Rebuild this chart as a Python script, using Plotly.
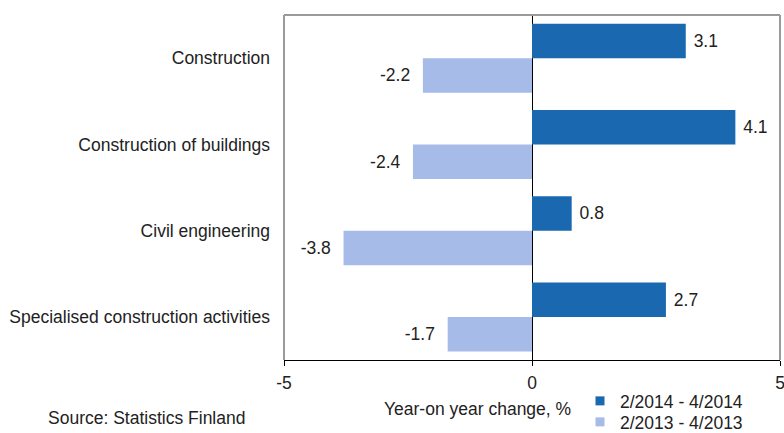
import plotly.graph_objects as go

categories = ["Construction", "Construction of buildings", "Civil engineering",
              "Specialised construction activities"]
series_2014 = [3.1, 4.1, 0.8, 2.7]
series_2013 = [-2.2, -2.4, -3.8, -1.7]
name_2014 = "2/2014 - 4/2014"
name_2013 = "2/2013 - 4/2013"
x_ticks = [-5, 0, 5]

DARK = "#1a68b0"
LIGHT = "#a6bbe8"
FONT = dict(family="Arial, Liberation Sans, sans-serif", size=17.5, color="#222222")

W, H = 784, 433
PL, PT, PR, PB = 284, 15, 780, 360  # plot area in px


def px(sx):
    return (sx - PL) / (PR - PL)


def py(sy):
    return (PB - sy) / (PB - PT)


NB = "\u00a0"
fig = go.Figure()
fig.add_trace(go.Bar(
    y=categories, x=series_2014, orientation="h", name=name_2014,
    marker=dict(color=DARK, line=dict(width=0)),
    text=[NB + f"{v:.1f}" for v in series_2014], textposition="outside",
    textfont=FONT, cliponaxis=False, showlegend=False,
))
fig.add_trace(go.Bar(
    y=categories, x=series_2013, orientation="h", name=name_2013,
    marker=dict(color=LIGHT, line=dict(width=0)),
    text=[f"{v:.1f}" + NB + NB for v in series_2013], textposition="outside",
    textfont=FONT, cliponaxis=False, showlegend=False,
))
# legend entries (small square symbols)
for nm, col, lg in [(name_2014, DARK, "legend"), (name_2013, LIGHT, "legend2")]:
    fig.add_trace(go.Scatter(
        x=[None], y=[None], mode="markers", name=nm, legend=lg,
        marker=dict(symbol="square", size=9, color=col),
    ))

legend_common = dict(xref="container", yref="container", xanchor="left", yanchor="middle",
                     font=FONT, bgcolor="rgba(0,0,0,0)", itemwidth=30)

fig.update_layout(
    width=W, height=H,
    margin=dict(l=PL, r=W - PR, t=PT, b=H - PB, autoexpand=False),
    paper_bgcolor="white", plot_bgcolor="white",
    barmode="group", bargap=0.2, bargroupgap=0,
    font=FONT,
    showlegend=True,
    legend=dict(x=580 / W, y=1 - 401 / H, **legend_common),
    legend2=dict(x=580 / W, y=1 - 422 / H, **legend_common),
    xaxis=dict(range=[-5, 5], tickvals=x_ticks, ticktext=[str(t) for t in x_ticks],
               showgrid=False, zeroline=True, zerolinecolor="#000000", zerolinewidth=1,
               showline=True, linecolor="#000000", linewidth=1,
               ticks="outside", ticklen=5, tickcolor="#000000",
               tickfont=FONT, ticklabelstandoff=2, automargin=False,
               ticklabeloverflow="allow"),
    yaxis=dict(categoryorder="array", categoryarray=categories, autorange="reversed",
               showgrid=False, zeroline=False, showline=False, ticks="",
               tickfont=FONT, ticklabelstandoff=13, automargin=False),
    shapes=[
        dict(type="line", xref="paper", yref="paper", x0=0, x1=1, y0=1, y1=1,
             line=dict(color="#9a9a9a", width=2)),
        dict(type="line", xref="paper", yref="paper", x0=0, x1=0, y0=0, y1=1,
             line=dict(color="#9a9a9a", width=2)),
        dict(type="line", xref="paper", yref="paper", x0=1, x1=1, y0=0, y1=1,
             line=dict(color="#9a9a9a", width=2)),
    ],
    annotations=[
        dict(text="Year-on year change, %", xref="paper", yref="paper",
             x=px(477), y=py(409), xanchor="center", yanchor="middle",
             showarrow=False, font=FONT),
        dict(text="Source: Statistics Finland", xref="paper", yref="paper",
             x=px(46), y=py(418), xanchor="left", yanchor="middle",
             showarrow=False, font=FONT),
    ],
)

fig.write_html(
    "out.html",
    config={"displayModeBar": False},
    post_script=("document.body.style.margin='0';"
                 "document.body.style.overflow='hidden';"
                 "document.documentElement.style.overflow='hidden';"),
)
